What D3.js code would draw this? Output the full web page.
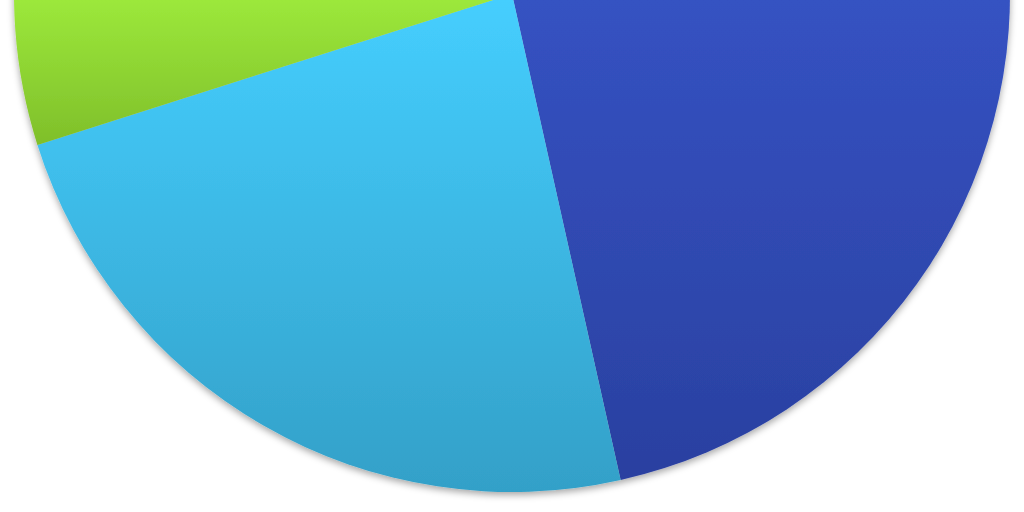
<!DOCTYPE html>
<html>
<head>
<meta charset="utf-8">
<script src="https://cdn.jsdelivr.net/npm/d3@7"></script>
<style>
  html, body { margin: 0; padding: 0; background: #ffffff; }
  svg { display: block; }
</style>
</head>
<body>
<svg id="chart" width="1024" height="512"></svg>
<script>
// ---- data ----
const categories = ["A", "B", "C"];
const values = [46.5, 23.6, 29.9];
const topColors = ["#3552c2", "#45cefe", "#9ce83b"];
const bottomColors = ["#2a40a0", "#33a0c8", "#7fbf2a"];
const gradientBottoms = [480, 492, 145]; // screen y where bottom colour is reached

// ---- layout ----
const W = 1024, H = 512;
const cx = 512, cy = -6, radius = 498;

const svg = d3.select("#chart");
const defs = svg.append("defs");

const filter = defs.append("filter")
  .attr("id", "shadow")
  .attr("x", "-10%").attr("y", "-10%")
  .attr("width", "120%").attr("height", "120%");
filter.append("feDropShadow")
  .attr("dx", 0).attr("dy", 3)
  .attr("stdDeviation", 3.5)
  .attr("flood-color", "#000000")
  .attr("flood-opacity", 0.35);

categories.forEach((c, i) => {
  const g = defs.append("linearGradient")
    .attr("id", "grad" + i)
    .attr("gradientUnits", "userSpaceOnUse")
    .attr("x1", 0).attr("x2", 0)
    .attr("y1", 0 - cy).attr("y2", gradientBottoms[i] - cy);
  g.append("stop").attr("offset", "0%").attr("stop-color", topColors[i]);
  g.append("stop").attr("offset", "100%").attr("stop-color", bottomColors[i]);
});

const pie = d3.pie().sort(null).value(d => d.value)
  .startAngle(0).endAngle(2 * Math.PI);
const arc = d3.arc().innerRadius(0).outerRadius(radius);

const data = categories.map((c, i) => ({ name: c, value: values[i], i }));

const g = svg.append("g")
  .attr("transform", `translate(${cx},${cy})`)
  .attr("filter", "url(#shadow)");

g.selectAll("path")
  .data(pie(data))
  .join("path")
  .attr("d", arc)
  .attr("fill", d => `url(#grad${d.data.i})`)
  .attr("stroke", "none");
</script>
</body>
</html>
